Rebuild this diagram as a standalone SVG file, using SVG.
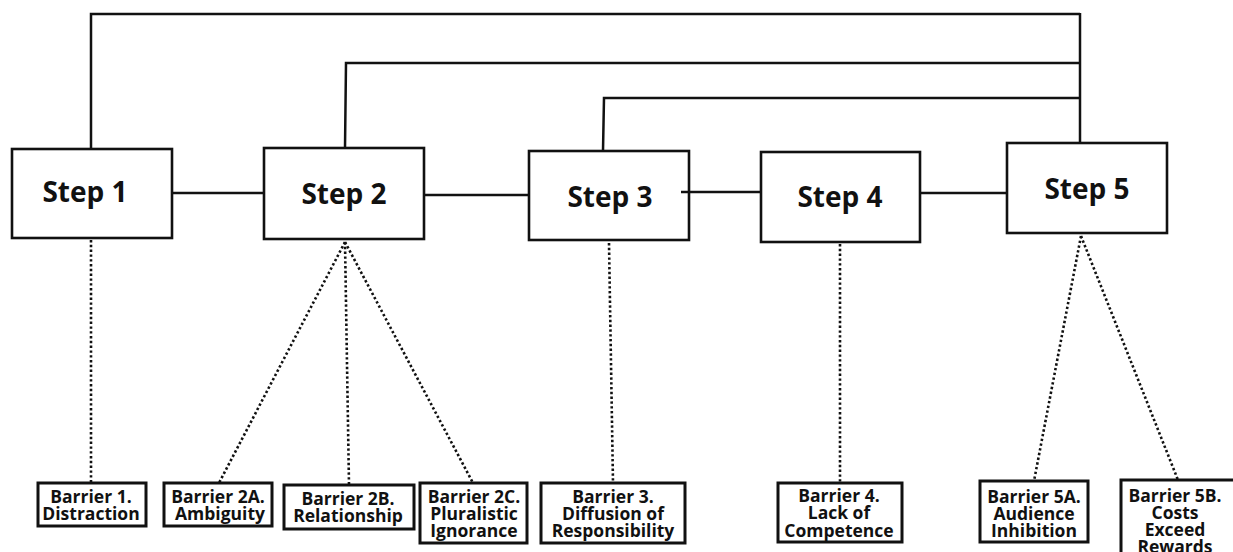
<svg xmlns="http://www.w3.org/2000/svg" width="1233" height="552" viewBox="0 0 1233 552">
  <style>
    .bg { fill: #ffffff; }
    .step rect { fill: #ffffff; stroke: #111111; stroke-width: 2.6; }
    .step text { font-family: "Open Sans", "Noto Sans", "DejaVu Sans", sans-serif; font-weight: 700; font-size: 28px; fill: #111111; text-anchor: middle; }
    .barrier rect { fill: #ffffff; stroke: #111111; stroke-width: 3; }
    .barrier text { font-family: "Open Sans", "Noto Sans", "DejaVu Sans", sans-serif; font-weight: 700; font-size: 17.5px; fill: #111111; text-anchor: middle; }
    .solid { fill: none; stroke: #111111; stroke-width: 2.5; }
    .dotted { fill: none; stroke: #111111; stroke-width: 2.6; stroke-dasharray: 2.4 2.4; }
  </style>
  <rect class="bg" x="0" y="0" width="1233" height="552"/>

  <g id="connectors">
    <!-- feedback loops from steps 1-3 to step 5 -->
    <polyline class="solid" points="91,149 91,14 1080,14"/>
    <polyline class="solid" points="345,148 346,63 1080,63"/>
    <polyline class="solid" points="603,151 604,98 1080,98"/>
    <line class="solid" x1="1080" y1="13" x2="1080" y2="143"/>
    <!-- sequence between steps -->
    <line class="solid" x1="172" y1="193" x2="264" y2="193"/>
    <line class="solid" x1="424" y1="195" x2="529" y2="195"/>
    <line class="solid" x1="920" y1="193" x2="1007" y2="193"/>
    <!-- barriers -->
    <line class="dotted" x1="91" y1="240" x2="91" y2="483"/>
    <line class="dotted" x1="345" y1="242" x2="219" y2="483"/>
    <line class="dotted" x1="345" y1="242" x2="349" y2="485"/>
    <line class="dotted" x1="345" y1="242" x2="473" y2="483"/>
    <line class="dotted" x1="609" y1="243" x2="613" y2="483"/>
    <line class="dotted" x1="840" y1="244" x2="840" y2="483"/>
    <line class="dotted" x1="1081" y1="236" x2="1034" y2="481"/>
    <line class="dotted" x1="1081" y1="236" x2="1178" y2="480"/>
  </g>

  <g id="step1" class="step">
    <rect x="12" y="149" width="160" height="89"/>
    <text x="85" y="202">Step 1</text>
  </g>
  <g id="step2" class="step">
    <rect x="264" y="148" width="160" height="91"/>
    <text x="344" y="204">Step 2</text>
  </g>
  <g id="step3" class="step">
    <rect x="529" y="151" width="160" height="89"/>
    <text x="610" y="207">Step 3</text>
  </g>
  <g id="step4" class="step">
    <rect x="761" y="152" width="159" height="90"/>
    <text x="840" y="207">Step 4</text>
  </g>
  <g id="step5" class="step">
    <rect x="1007" y="143" width="160" height="90"/>
    <text x="1087" y="199">Step 5</text>
  </g>
  <!-- step 3 to step 4 link, starting just inside the step 3 box -->
  <line class="solid" x1="681" y1="192" x2="761" y2="192"/>

  <g id="barrier1" class="barrier">
    <rect x="38" y="483" width="108" height="43"/>
    <text x="91" y="503">Barrier 1.</text>
    <text x="91" y="520">Distraction</text>
  </g>
  <g id="barrier2a" class="barrier">
    <rect x="164" y="483" width="108" height="43"/>
    <text x="218" y="503">Barrier 2A.</text>
    <text x="220" y="520">Ambiguity</text>
  </g>
  <g id="barrier2b" class="barrier">
    <rect x="284" y="485" width="130" height="44"/>
    <text x="348" y="505">Barrier 2B.</text>
    <text x="348" y="522">Relationship</text>
  </g>
  <g id="barrier2c" class="barrier">
    <rect x="420" y="483" width="107" height="60"/>
    <text x="474" y="503">Barrier 2C.</text>
    <text x="474" y="520">Pluralistic</text>
    <text x="474" y="537">Ignorance</text>
  </g>
  <g id="barrier3" class="barrier">
    <rect x="541" y="483" width="144" height="60"/>
    <text x="613" y="503">Barrier 3.</text>
    <text x="613" y="520">Diffusion of</text>
    <text x="613" y="537">Responsibility</text>
  </g>
  <g id="barrier4" class="barrier">
    <rect x="778" y="483" width="124" height="59"/>
    <text x="839" y="502">Barrier 4.</text>
    <text x="839" y="519">Lack of</text>
    <text x="839" y="537">Competence</text>
  </g>
  <g id="barrier5a" class="barrier">
    <rect x="980" y="481" width="108" height="61"/>
    <text x="1034" y="503">Barrier 5A.</text>
    <text x="1034" y="520">Audience</text>
    <text x="1034" y="537">Inhibition</text>
  </g>
  <g id="barrier5b" class="barrier">
    <rect x="1121" y="480" width="120" height="90"/>
    <text x="1175" y="502">Barrier 5B.</text>
    <text x="1175" y="519">Costs</text>
    <text x="1175" y="536">Exceed</text>
    <text x="1175" y="553">Rewards</text>
  </g>
</svg>
